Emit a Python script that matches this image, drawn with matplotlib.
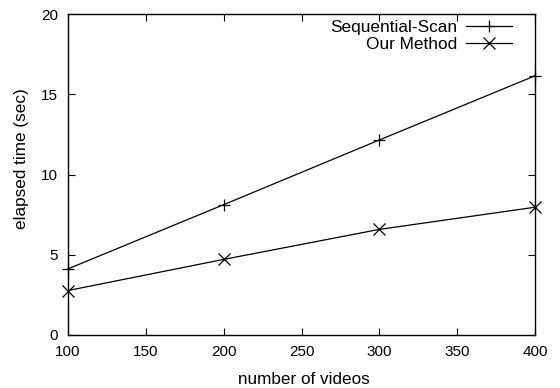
import matplotlib
matplotlib.use('Agg')
import matplotlib.pyplot as plt

plt.rcParams['font.family'] = ['Liberation Sans', 'DejaVu Sans']

# data
videos = [100, 200, 300, 400]
seq_scan = [4.12, 8.12, 12.15, 16.15]
our_method = [2.77, 4.71, 6.58, 7.96]

fig = plt.figure(figsize=(5.6, 3.88), dpi=100)
ax = fig.add_axes([68 / 560, 1 - 335 / 388, (535 - 68) / 560, (335 - 14) / 388])

ax.plot(videos, seq_scan, color='black', lw=0.9, marker='+', ms=8, mew=0.9,
        label='Sequential-Scan', clip_on=False)
ax.plot(videos, our_method, color='black', lw=0.9, marker='x', ms=8, mew=0.9,
        label='Our Method', clip_on=False)

ax.set_xlim(100, 400)
ax.set_ylim(0, 20)
ax.set_xticks([100, 150, 200, 250, 300, 350, 400])
ax.set_yticks([0, 5, 10, 15, 20])
ax.tick_params(direction='in', top=True, right=True, length=5, width=0.8,
               labelsize=11, pad=7)
for s in ax.spines.values():
    s.set_linewidth(1.0)

ax.set_xlabel('number of videos', fontsize=12.3)
ax.set_ylabel('elapsed time (sec)', fontsize=12.3)
ax.xaxis.set_label_coords(0.506, -0.14)
ax.yaxis.set_label_coords(-0.1, 0.55)
ax.xaxis.label.set_va('center')
ax.yaxis.label.set_va('center')

ax.legend(loc='upper right', bbox_to_anchor=(0.951, 0.98), frameon=False,
          markerfirst=False, fontsize=12.4, handlelength=2.7,
          handletextpad=0.47, borderpad=0, borderaxespad=0, labelspacing=0.08)

plt.savefig('out.png', dpi=100)
plt.close()
